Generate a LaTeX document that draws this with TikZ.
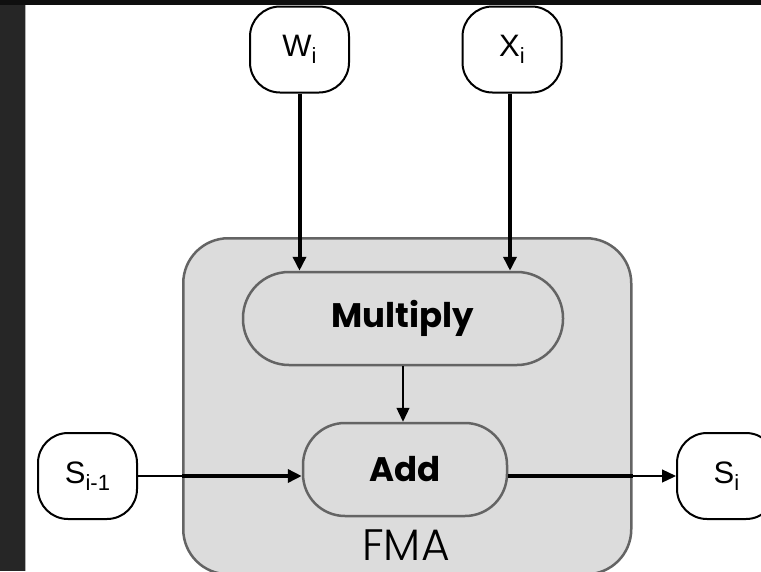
\documentclass[tikz,border=0pt]{standalone}
\usepackage{fontspec}
\setmainfont{Liberation Sans}
\newfontfamily\gothic{Poppins}
\newfontfamily\gothiclight{Poppins}[UprightFont={* Light}]
\usetikzlibrary{arrows.meta}
\definecolor{boxfill}{HTML}{DCDCDC}
\definecolor{boxline}{HTML}{646464}
\definecolor{darkside}{HTML}{262626}
\definecolor{topstrip}{HTML}{0F0F0F}
\newcommand{\lbl}[2]{{\fontsize{31}{31}\selectfont #1\raisebox{-7pt}{\fontsize{22}{22}\selectfont #2}}}
\begin{document}
\begin{tikzpicture}[x=1pt,y=-1pt,
  io/.style={draw=black,line width=2pt,fill=white,rounded corners=30pt,minimum width=99pt,minimum height=86pt,inner sep=0pt},
  op/.style={draw=boxline,line width=2.5pt,fill=boxfill,minimum height=93pt,inner sep=0pt,font=\gothic\bfseries\fontsize{34}{34}\selectfont},
  thickarrow/.style={line width=4pt,-{Triangle[length=14pt,width=13pt]}},
  thinarrow/.style={line width=1.3pt,-{Triangle[length=14pt,width=13pt]}},
  thickline/.style={line width=4pt},
  thinline/.style={line width=1.3pt}]
\useasboundingbox (0,0) rectangle (761,571);
\clip (0,0) rectangle (761,571);
\fill[white] (0,0) rectangle (761,571);
\fill[darkside] (0,0) rectangle (25,571);
\fill[topstrip] (0,0) rectangle (761,5);
\draw[gray!60,line width=1pt] (25.5,5) -- (25.5,571);

\node[draw=boxline,line width=2.5pt,fill=boxfill,rounded corners=45pt,minimum width=448pt,minimum height=336pt,anchor=north west,inner sep=0pt] (fma) at (182,237) {};
\node[font=\gothiclight\fontsize{44}{44}\selectfont,anchor=base,text depth=0pt,inner sep=0pt] (fmalabel) at (406,560) {FMA};

\node[op,rounded corners=46pt,minimum width=320pt] (mul) at (403,318.5) {Multiply};
\node[op,rounded corners=42pt,minimum width=204pt] (add) at (405,469.5) {Add};

\node[io] (w) at (299.5,49.5) {\lbl{W}{i}};
\node[io] (x) at (512,49.5) {\lbl{X}{i}};
\node[io] (sp) at (87.5,476) {\lbl{S}{i-1}};
\node[io] (s) at (726.5,476) {\lbl{S}{i}};

\draw[thickarrow] (w.south) -- (w.south |- mul.north);
\draw[thickarrow] ([xshift=-2pt]x.south) -- ([xshift=-2pt]x.south |- mul.north);
\draw[thinarrow] (mul.south) -- (mul.south |- add.north);
\draw[thinline] (sp.east) -- (sp.east -| fma.west);
\draw[thickarrow] (sp.east -| fma.west) -- (sp.east -| add.west);
\draw[thickline] (s.west -| add.east) -- (s.west -| fma.east);
\draw[thinarrow] (s.west -| fma.east) -- (s.west);
\end{tikzpicture}
\end{document}
